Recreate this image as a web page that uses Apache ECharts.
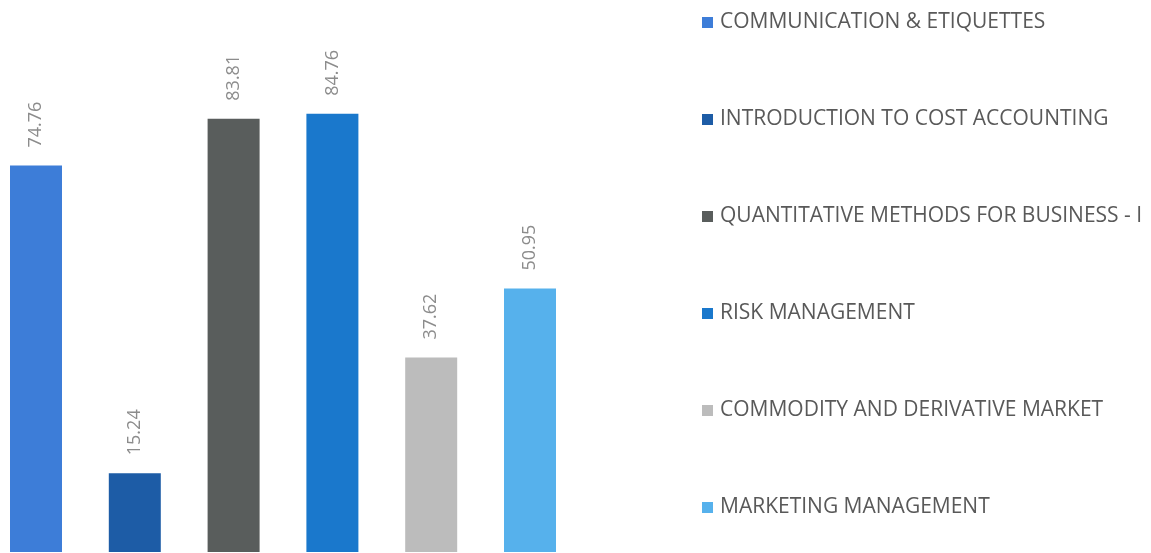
<!DOCTYPE html>
<html>
<head>
<meta charset="utf-8">
<script src="https://cdn.jsdelivr.net/npm/echarts@6/dist/echarts.min.js"></script>
<style>
  html, body { margin: 0; padding: 0; background: #fff; }
  #chart { width: 1151px; height: 553px; }
</style>
</head>
<body>
<div id="chart"></div>
<script>
const subjects = [
  'COMMUNICATION & ETIQUETTES',
  'INTRODUCTION TO COST ACCOUNTING',
  'QUANTITATIVE METHODS FOR BUSINESS - I',
  'RISK MANAGEMENT',
  'COMMODITY AND DERIVATIVE MARKET',
  'MARKETING MANAGEMENT'
]
const scores = [74.76, 15.24, 83.81, 84.76, 37.62, 50.95]
const colors = ['#3d7dd8', '#1d5ca6', '#595d5c', '#1a78cc', '#bcbcbc', '#56b1ec']

const chart = echarts.init(document.getElementById('chart'))

// one series per subject, single category so bars sit side by side
const series = subjects.map((name, i) => ({
  name: name,
  type: 'bar',
  data: [scores[i]],
  barWidth: 52,
  barGap: '90%',
  itemStyle: { color: colors[i] },
  label: {
    show: true,
    position: 'top',
    rotate: 90,
    align: 'left',
    verticalAlign: 'middle',
    distance: 18,
    color: '#8c8c8c',
    fontSize: 18,
    fontFamily: 'Open Sans',
    formatter: p => p.value.toFixed(2)
  }
}))

chart.setOption({
  animation: false,
  grid: { left: 0, width: 566, top: 35, bottom: 1 },
  xAxis: {
    type: 'category',
    data: [''],
    show: false
  },
  yAxis: {
    type: 'value',
    min: 0,
    max: 100,
    show: false
  },
  legend: {
    orient: 'vertical',
    left: 697,
    top: 7,
    icon: 'rect',
    itemWidth: 11,
    itemHeight: 11,
    itemGap: 76,
    textStyle: {
      color: '#595959',
      fontSize: 21,
      fontFamily: 'Open Sans',
      padding: [0, 0, 0, 2]
    },
    data: subjects
  },
  series: series
})
</script>
</body>
</html>
